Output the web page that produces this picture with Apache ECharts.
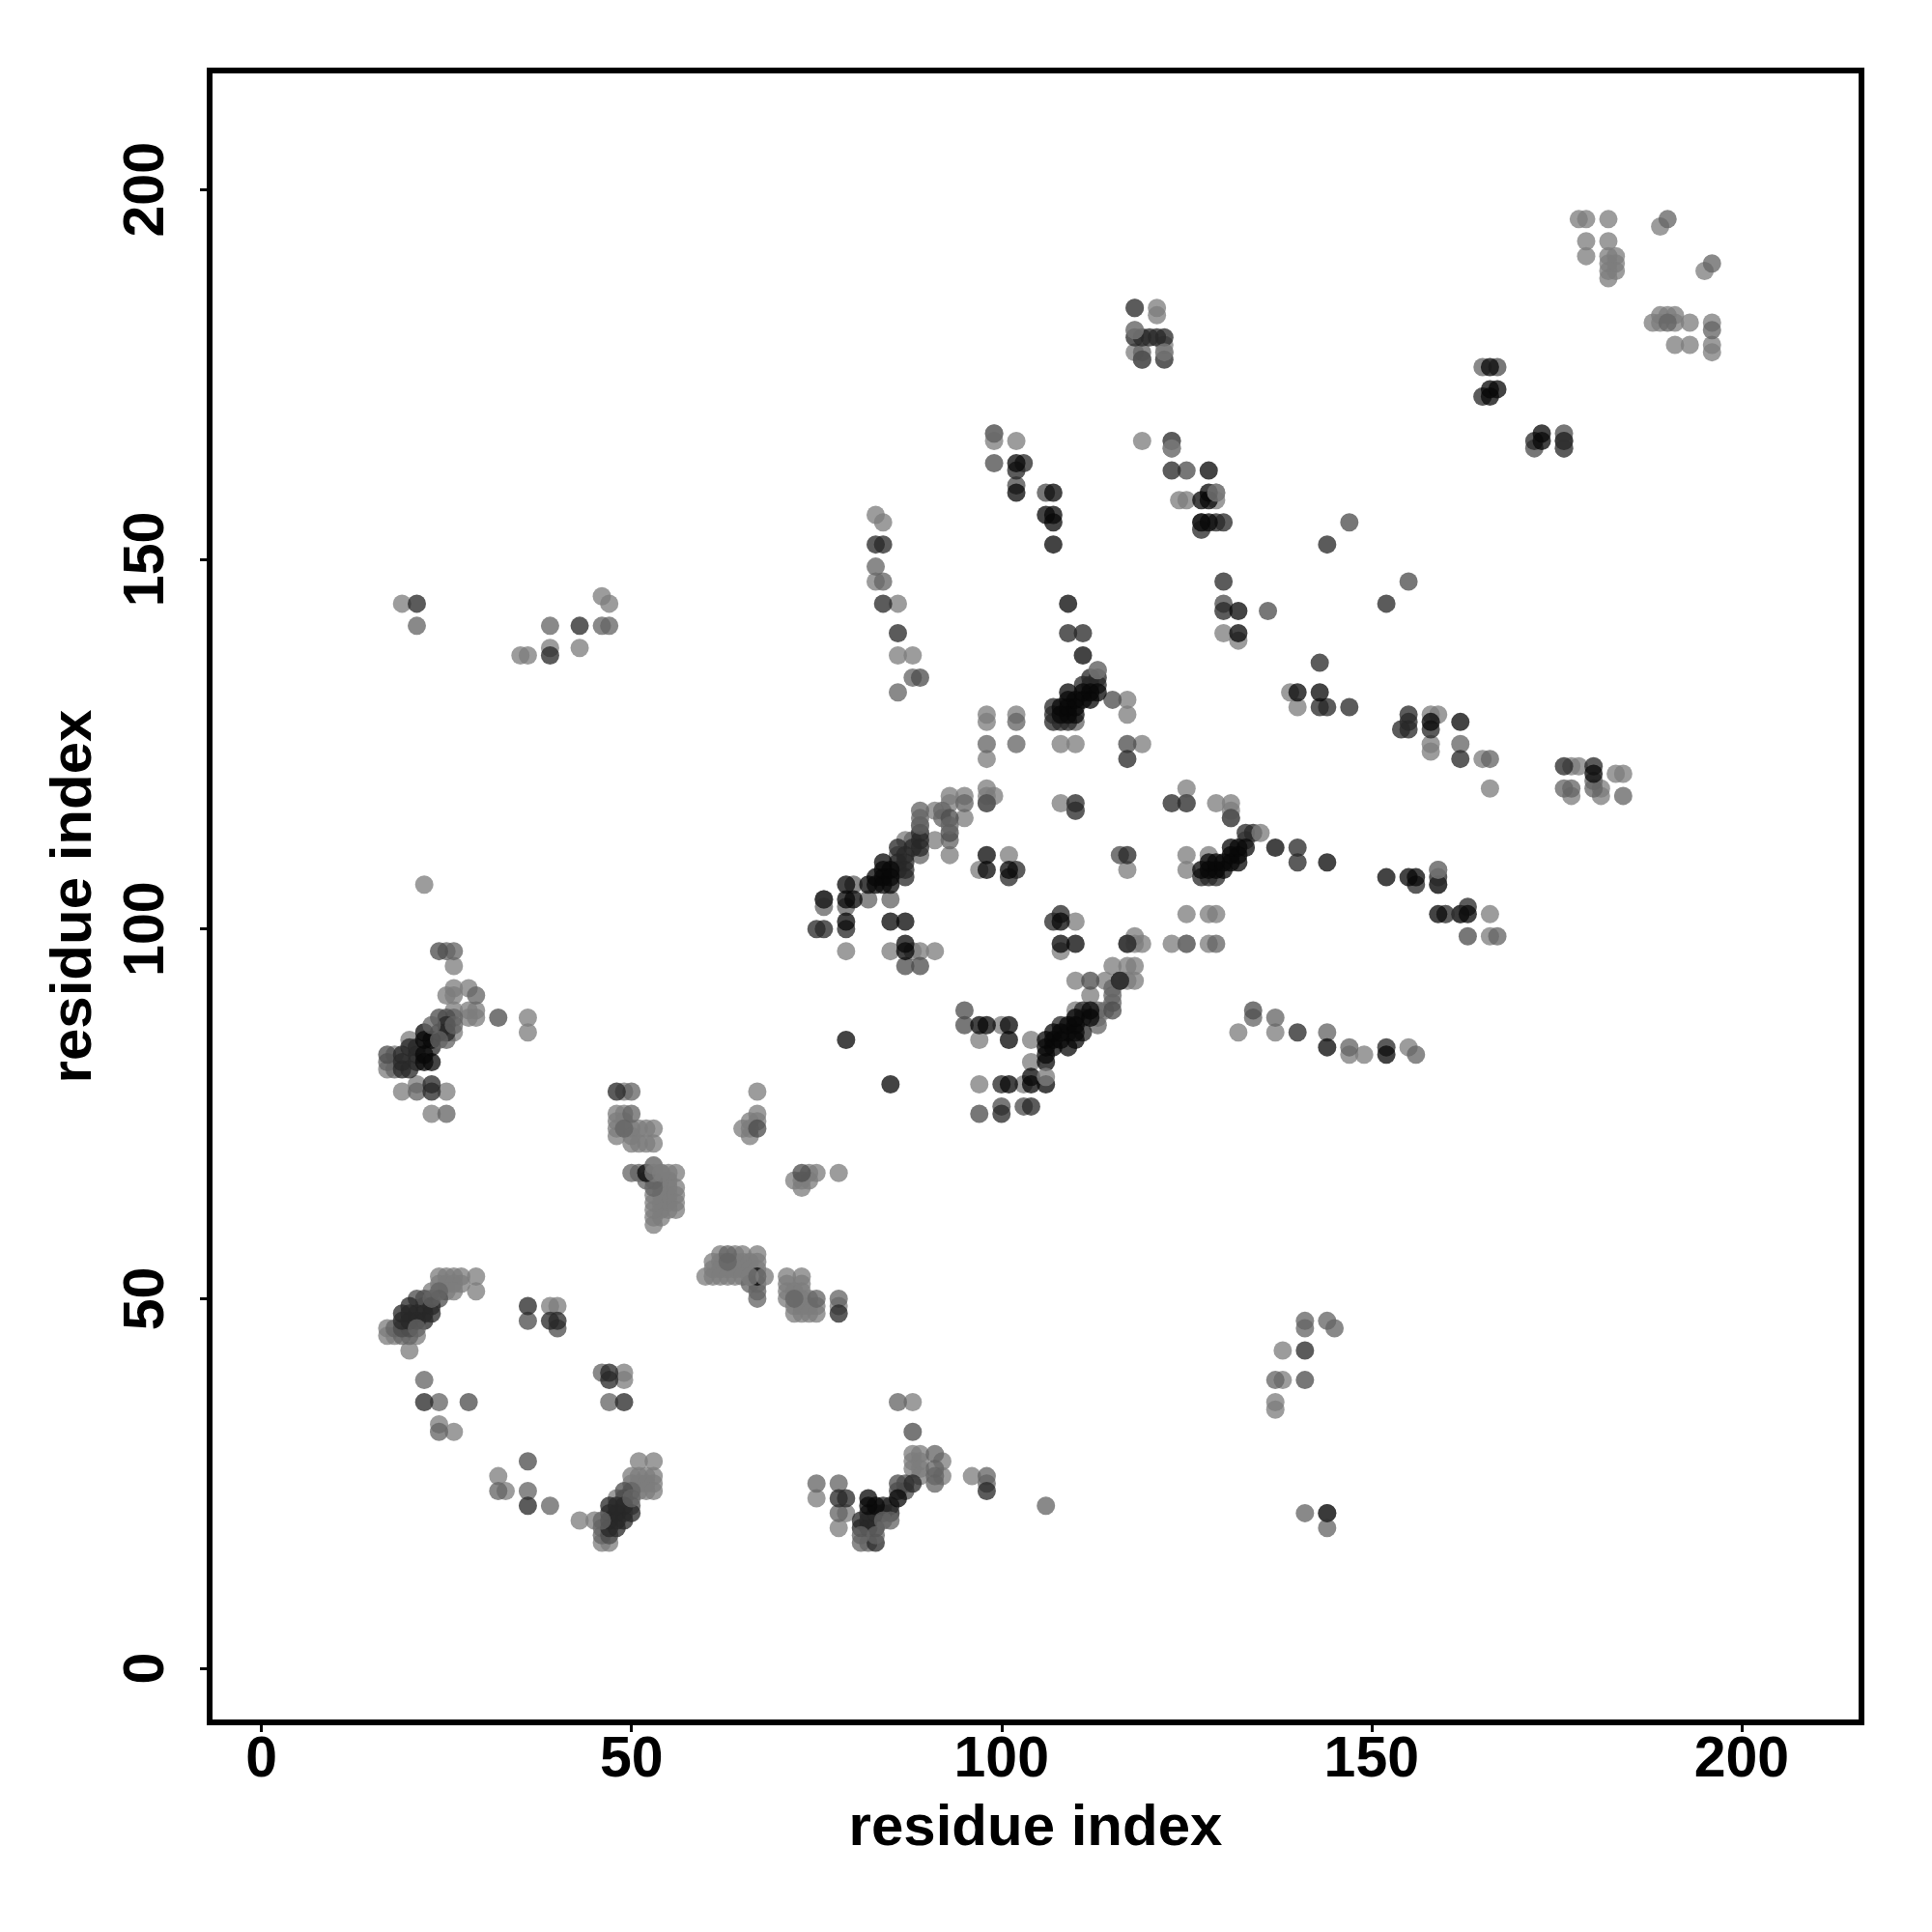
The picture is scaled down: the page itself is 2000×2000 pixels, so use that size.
<!DOCTYPE html>
<html><head><meta charset="utf-8">
<style>html,body{margin:0;padding:0;background:#fff}#c{width:2000px;height:2000px}</style>
<script src="https://cdn.jsdelivr.net/npm/echarts@6/dist/echarts.min.js"></script>
</head><body><div id="c"></div>
<script>
const axisTitle = "residue index";
const tickValues = [0, 50, 100, 150, 200];

const lightPoints = [
[26,95],[26,92],[28,92],[25,91],[26,91],[28,89],[29,89],[26,89],[28,88],[29,88],[36,88],[36,86],[19,78],[21,79],[25,78],[23,75],[17,81],[18,83],[20,85],[26,86],
[49,78],[48,75],[49,75],[48,74],[48,73],[48,72],[49,74],[50,73],[50,72],[50,71],[51,73],[51,71],[52,73],[52,71],[53,73],[53,71],[53,68],[54,67],[55,67],[56,67],[54,66],[54,65],[54,64],[54,63],[54,62],[54,61],[55,66],[55,65],[55,64],[55,63],[55,62],[56,65],[56,64],[56,63],[56,62],[53,60],[53,61],[53,62],[53,63],[53,64],
[29,53],[29,51],[24,53],[25,53],[26,53],[27,53],[24,52],[25,52],[26,52],[27,52],[25,51],[26,51],[17,46],[17,45],[18,45],[21,45],[20,43],[23,51],
[39,49],[40,49],[49,40],[49,39],[24,33],[26,32],[32,26],[33,24],[43,20],
[51,28],[53,28],[50,26],[51,26],[52,26],[53,26],[50,25],[51,25],[52,25],[53,25],[51,24],[52,24],[53,24],[48,23],[46,17],[47,17],[45,20],
[62,56],[64,56],[65,56],[67,56],[61,55],[62,55],[64,55],[65,55],[66,55],[67,55],[61,54],[62,54],[63,54],[64,54],[65,54],[66,54],[67,54],[60,53],[61,53],[62,53],[63,53],[64,53],[65,53],[66,53],
[71,53],[73,53],[71,52],[73,52],[71,51],[72,51],[73,51],[71,50],[73,50],[74,50],[72,49],[73,49],[74,49],[75,49],[72,48],[73,48],[74,48],[75,48],[78,49],
[67,78],[67,75],[66,74],[67,74],[65,73],[66,73],[66,72],[74,67],[75,67],[78,67],[72,66],[73,66],[74,66],[73,65],
[88,36],[88,29],[89,29],[92,28],[88,28],[89,28],[88,27],[89,27],[89,26],[92,26],[96,26],[75,23],[79,21],[78,19],
[97,79],[103,79],[104,85],[104,82],[100,87],[97,85],[91,97],[85,97],[79,97],[110,101],[108,97],[88,97],[89,97],
[118,98],[119,98],[118,99],[123,98],[115,95],[117,95],[118,95],[110,93],[114,93],[118,93],[117,93],[112,91],[110,89],[114,89],[113,88],[110,88],
[125,98],[128,98],[129,102],[125,102],[128,102],[131,117],[129,117],[131,116],[125,119],
[93,118],[95,118],[93,117],[95,115],[91,116],[89,114],[91,112],[93,110],[87,112],[98,119],[98,118],[99,118],[98,117],
[98,129],[98,128],[102,129],[98,123],[108,125],[110,125],[117,129],[117,131],[119,125],[108,117],
[125,110],[125,108],[128,110],[97,108],[101,110],[117,108],
[139,132],[140,130],[130,140],[132,139],[165,123],[166,119],[166,102],[166,99],[158,124],[158,125],[158,129],[159,129],[132,86],[137,86],[147,83],[149,83],[155,84],
[19,144],[35,137],[36,137],[39,138],[43,138],[46,145],[47,144],[22,106],
[178,196],[179,196],[182,196],[179,193],[182,193],[179,191],[182,191],[183,191],[182,190],[183,190],[183,189],[182,189],[182,188],[189,195],[195,189],[188,182],[189,183],[189,182],[190,183],[191,183],[191,182],[193,182],[196,182],[191,179],[193,179],[196,179],[196,178],
[121,184],[121,183],[118,181],[122,179],[118,178],[122,178],[99,166],[102,166],[119,166],[123,165],[124,158],[125,158],[129,158],[99,167],
[86,137],[88,137],[86,144],[83,156],[84,155],[83,147],[137,36],[137,35],[138,39],[138,43],[177,122],[178,122],[183,121],[184,121],[181,118],[177,118],[181,119]
];
const midPoints = [
[25,97],[26,97],[29,91],[21,78],[25,75],[17,82],[18,81],[25,85],[26,88],
[50,78],[50,75],[49,73],[50,67],[51,67],[53,65],[53,66],[52,66],
[18,46],[19,45],[20,45],
[32,24],[24,36],[24,32],[22,39],[36,24],[39,22],[46,40],[47,36],
[46,18],[46,19],[50,24],
[63,56],[63,55],[66,52],[67,52],[67,51],[67,50],[75,50],[78,50],[72,50],
[86,36],[91,29],[91,27],[91,26],[91,25],[98,26],[98,25],[75,25],[78,25],[78,21],[106,22],[81,17],[82,17],
[115,92],[115,91],[115,90],[117,98],[116,93],[113,89],[113,87],
[98,125],[102,125],[102,128],[125,117],[131,115],[110,116],[125,98],[129,98],
[89,115],[92,116],[92,115],[93,112],[95,117],[86,110],[88,112],[89,110],[85,104],[80,106],[82,104],[76,103],[79,103],
[110,128],[113,135],[133,112],
[118,184],[119,178],[119,177],[123,166],[129,159],[127,154],[127,155],[99,167],
[165,176],[165,172],[176,165],[190,196],[196,190],[190,182],[196,181],
[134,88],[137,88],[144,86],[147,84],[156,83],[159,108],[160,102],[167,99],[166,123],[162,125],
[21,141],[39,141],[46,141],[47,141],[141,47],[141,46],[144,47],[145,46],[137,39],[141,21],[144,19],[176,119],[177,119],[180,119],[180,120],[184,118],[83,149],[86,132],[88,134],[84,147]
];
const dimPoints = [
[32,88],[24,97],[24,88],[25,88],[17,83],[20,46],[19,46],[21,50],[22,50],[24,50],[22,49],
[36,47],[40,46],[28,36],[36,28],[49,24],[49,23],[47,18],[49,21],[50,22],[67,73],[73,67],[88,32],[86,24],[87,25],[87,24],[86,25],
[95,89],[95,87],[97,75],[100,76],[112,93],[115,89],[116,93],[103,76],[87,95],[89,95],[116,110],
[115,131],[117,125],[125,117],[131,115],[110,116],[98,117],[93,113],[93,115],
[118,184],[119,177],[99,163],[102,160],[106,159],[123,166],[125,162],[127,154],[136,143],[130,144],[147,155],[155,147],
[167,176],[165,172],[176,167],[176,166],[172,165],[176,165],[163,99],[160,102],[162,102],[134,89],[159,106],[141,39],[144,21],[89,134]
];
const darkPoints = [
[19,81],[19,82],[19,83],[20,81],[20,84],[21,83],[21,84],[23,79],[23,78],[23,84],[24,86],[25,87],[25,86],[21,82],[48,78],
[19,48],[20,49],[19,47],[20,47],[21,47],[21,48],[22,47],[22,48],[23,49],[23,48],[20,48],
[36,49],[22,36],[49,36],[36,22],[21,144],[43,141],[39,137],[39,47],[40,47],[47,40],[47,39],
[47,19],[47,20],[48,19],[49,20],[48,20],[47,21],[48,21],[49,22],[50,21],[47,22],[48,22],
[78,23],[79,23],[98,24],[81,19],[81,20],[82,20],[83,17],[83,19],[84,21],[85,22],[82,19],[88,25],[78,48],[82,21],[83,21],[84,22],[85,21],
[100,79],[104,76],[100,75],[75,100],[76,100],[76,104],[79,100],
[108,87],[109,86],[111,86],[111,88],[111,89],[116,93],[117,98],
[107,128],[107,129],[107,130],[108,128],[109,128],[111,133],[112,133],[113,133],[113,134],[112,134],[109,140],[111,140],
[117,123],[123,117],[110,117],[117,110],[102,108],[101,107],[107,101],[108,102],[127,107],[128,107],[129,107],[133,113],[134,113],[140,111],[140,109],
[118,180],[119,180],[120,180],[121,180],[122,180],[122,177],[103,163],[102,162],[123,162],[130,155],[129,155],[130,147],[130,143],
[144,152],[152,144],[143,130],[144,130],[147,130],[143,136],[140,86],[152,84],[159,107],[159,106],[162,102],[163,103],[156,106],[155,129],[155,128],[155,127],[154,127],[158,127],[162,123],
[172,166],[176,166],[180,122],[176,122],[141,43],[144,21],[86,140],[83,152],[84,152],[84,144],[89,113],[88,111],[89,112],[89,111],[86,111],[86,109],[86,108],[87,110],[87,109],[87,108],[87,107],[76,104]
];
const blackPoints = [
[22,85],[22,86],[23,85],[23,82],[22,83],[22,82],[52,67],[67,53],
[82,23],[82,22],[83,22],[86,23],
[79,85],[85,79],[97,87],[98,87],[101,87],[101,85],[106,85],[106,84],[107,85],[107,84],[108,85],[109,84],[106,83],[106,82],[104,79],[104,80],[101,79],[106,79],[108,98],[110,98],[108,101],
[85,106],[84,107],[83,106],[82,106],[84,106],[83,107],[84,108],[84,109],[85,107],[85,108],[79,106],[79,104],[80,104],[79,101],[85,101],[87,101],[87,98],[87,97],
[107,86],[108,86],[109,87],[110,87],[110,86],[110,85],[110,88],[112,88],[112,89],
[108,129],[109,129],[110,129],[108,130],[109,130],[110,130],[109,131],[110,131],[111,131],[112,131],[109,132],[111,132],[112,132],[113,132],[111,137],[109,144],
[98,110],[98,108],[101,108],[127,108],[128,108],[129,108],[128,109],[129,109],[130,109],[130,108],[131,109],[132,109],[131,110],[132,110],[131,111],[132,111],[133,111],[137,111],[144,109],
[102,163],[102,159],[107,159],[106,156],[107,156],[107,155],[107,152],[128,162],[128,159],[127,158],[128,158],[127,155],[128,155],[132,143],[132,140],
[166,176],[166,173],[167,173],[166,172],[173,167],[173,166],[140,132],[143,132],[152,107],[155,107],[156,107],[159,102],[163,102],[162,128],[158,128],[180,121],[152,83],[144,84]
];
const overMidPoints = [[24,85],[23,87],[26,87],[21,46],[23,50],[24,51],[50,23],[84,20],[85,20],[46,20],[83,18],[81,18],[89,116],[89,114],[93,114]];
const overLightPoints = [[113,135],[135,113],[106,80],[129,159],[122,178],[159,108],[118,181],[123,165],[53,67],[53,68],[68,53],[66,53],[54,67]];

const greys = [
  ["rgba(125,125,125,0.95)", lightPoints],
  ["rgba(100,100,100,0.95)", midPoints],
  ["rgba(76,76,76,0.95)", dimPoints],
  ["rgba(40,40,40,0.95)", darkPoints],
  ["rgba(8,8,8,0.95)", blackPoints],
  ["rgba(100,100,100,0.95)", overMidPoints],
  ["rgba(125,125,125,0.97)", overLightPoints]
];

const font = "'Liberation Sans', Arial, sans-serif";
const chart = echarts.init(document.getElementById('c'), null, {renderer:'canvas'});
function axis(extra){
  return Object.assign({
    type:'value', name:axisTitle, nameLocation:'middle',
    nameTextStyle:{fontFamily:font,fontWeight:'bold',fontSize:60,color:'#000'},
    axisLine:{show:false,onZero:false}, splitLine:{show:false},
    axisTick:{show:true,length:10,inside:false,customValues:tickValues,lineStyle:{color:'#000',width:3}}
  }, extra);
}
chart.setOption({
  backgroundColor:'#fff', animation:false,
  grid:{left:217,top:73,width:1710,height:1710,show:true,borderColor:'#000',borderWidth:6,backgroundColor:'#fff'},
  xAxis:axis({min:-7,max:216.2,nameGap:80,
    axisLabel:{customValues:tickValues,fontFamily:font,fontWeight:'bold',fontSize:59,color:'#000',margin:10}}),
  yAxis:axis({min:-7.3,max:216.1,nameGap:110,
    axisLabel:{customValues:tickValues,rotate:90,fontFamily:font,fontWeight:'bold',fontSize:59,color:'#000',margin:64,align:'center',verticalAlign:'middle'}}),
  series:greys.map(([color,data])=>({
    type:'scatter',data,symbolSize:19,itemStyle:{color,borderWidth:0},silent:true
  }))
});
</script></body></html>
